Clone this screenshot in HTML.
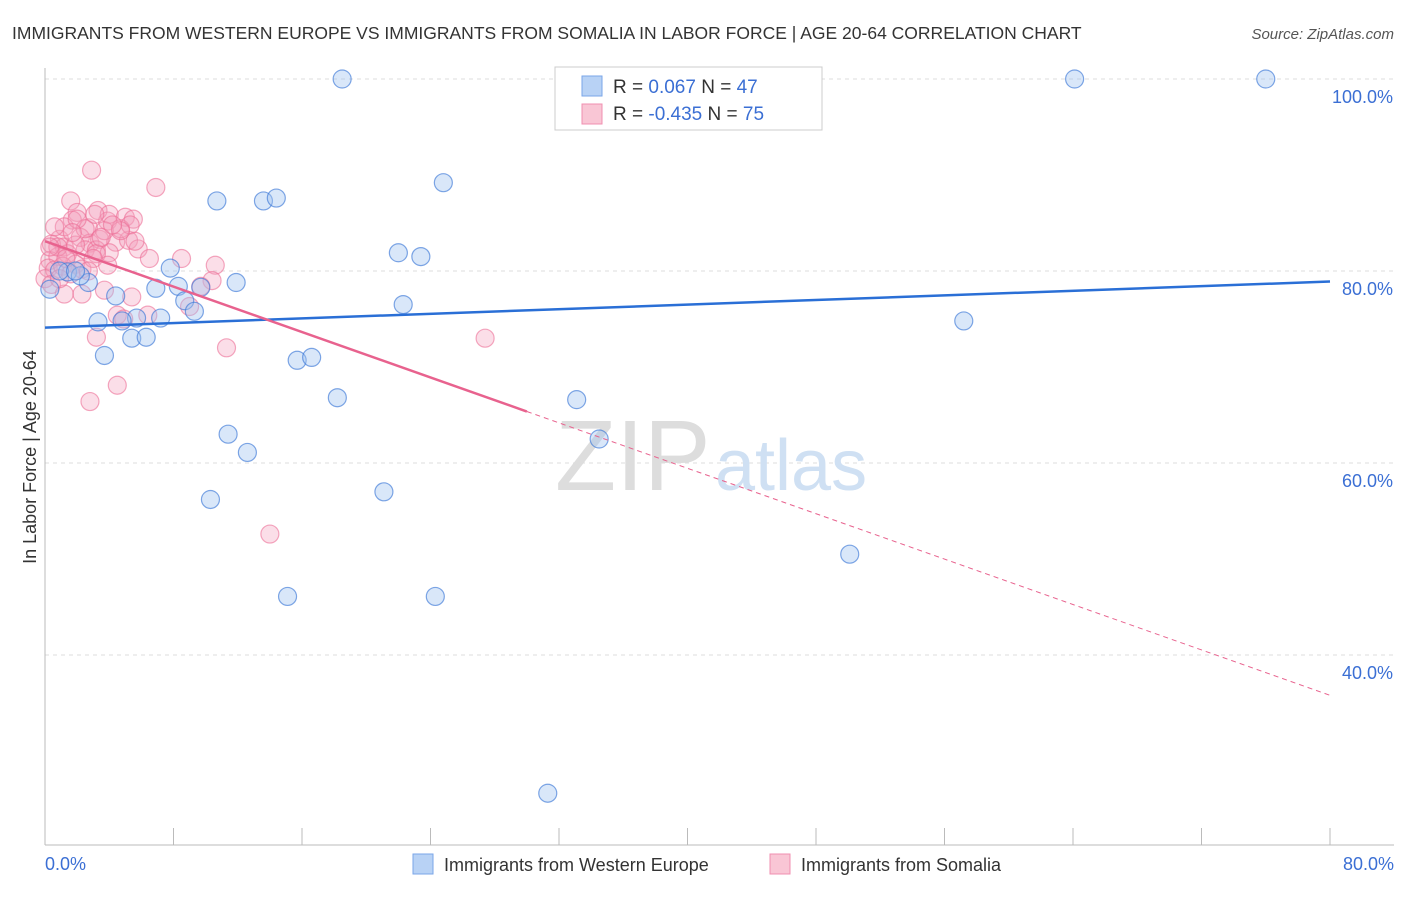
<!DOCTYPE html>
<html><head><meta charset="utf-8"><style>
body{margin:0;background:#fff;font-family:"Liberation Sans",sans-serif;}
svg text{font-family:"Liberation Sans",sans-serif;}
</style></head><body>
<svg width="1406" height="892" xmlns="http://www.w3.org/2000/svg">
<text x="12" y="39" font-size="17.5" fill="#333">IMMIGRANTS FROM WESTERN EUROPE VS IMMIGRANTS FROM SOMALIA IN LABOR FORCE | AGE 20-64 CORRELATION CHART</text>
<text x="1394" y="39" font-size="15" fill="#555" font-style="italic" text-anchor="end">Source: ZipAtlas.com</text>
<g id="grid"></g>
<text x="555" y="490" font-size="100" fill="#ddd" font-family="Liberation Serif">ZIP</text>
<text x="715" y="490" font-size="72" fill="#cfe0f3">atlas</text>
<line x1="45" y1="68" x2="45" y2="845" stroke="#bbb"/>
<line x1="45" y1="845" x2="1394" y2="845" stroke="#bbb"/>
<g id="ticks"></g>
<text x="36" y="457" font-size="18" fill="#333" transform="rotate(-90 36 457)" text-anchor="middle">In Labor Force | Age 20-64</text>
<text x="45" y="870" font-size="18" fill="#3b6fd4">0.0%</text>
<text x="1394" y="870" font-size="18" fill="#3b6fd4" text-anchor="end">80.0%</text>
<g id="pts"></g>
<g id="lines"></g>
<g>
<rect x="555" y="67" width="267" height="63" fill="#fff" stroke="#ccc"/>
<rect x="582" y="76" width="20" height="20" fill="#b8d2f5" stroke="#7aa6e8"/>
<rect x="582" y="104" width="20" height="20" fill="#f9c6d5" stroke="#f08fb0"/>
<text x="613" y="93" font-size="19" fill="#333">R = <tspan fill="#3b6fd4">  0.067</tspan>    N = <tspan fill="#3b6fd4">47</tspan></text>
<text x="613" y="120" font-size="19" fill="#333">R = <tspan fill="#3b6fd4">-0.435</tspan>    N = <tspan fill="#3b6fd4">75</tspan></text>
</g>
<g>
<rect x="413" y="854" width="20" height="20" fill="#b8d2f5" stroke="#7aa6e8"/>
<text x="444" y="871" font-size="18" fill="#333">Immigrants from Western Europe</text>
<rect x="770" y="854" width="20" height="20" fill="#f9c6d5" stroke="#f08fb0"/>
<text x="801" y="871" font-size="18" fill="#333">Immigrants from Somalia</text>
</g>
</svg>
<script>
const yTicks=[100,80,60,40];
const xTicks=[0,8,16,24,32,40,48,56,64,72,80];
const blueX=[18.5,34.5,35.9,64.1,76.0,10.7,13.6,14.4,24.8,22.0,23.4,7.8,11.9,6.9,8.3,9.7,8.7,9.3,22.3,3.3,5.7,7.2,4.8,5.4,6.3,3.7,15.7,16.6,18.2,33.1,34.5,11.4,12.6,10.3,21.1,50.1,15.1,24.3,31.3,57.2,0.3,2.7,1.4,4.4,2.2,0.9,1.9];
const blueY=[100,100,100,100,100,87.3,87.3,87.6,89.2,81.9,81.5,80.3,78.8,78.2,78.4,78.3,76.9,75.8,76.5,74.7,75.1,75.1,74.8,73.0,73.1,71.2,70.7,71.0,66.8,66.6,62.5,63.0,61.1,56.2,57.0,50.5,46.1,46.1,25.6,74.8,78.1,78.8,79.9,77.4,79.5,80.0,80.0];
const pinkX=[2.9,6.9,1.6,2.0,3.3,3.9,1.7,2.7,4.0,5.0,5.5,0.9,0.4,1.2,2.2,2.8,3.4,4.4,5.2,0.3,0.8,1.4,2.5,3.2,4.0,0.2,0.6,1.1,1.9,2.3,0.0,0.4,1.2,2.3,3.2,3.7,4.7,5.3,5.8,6.5,8.5,10.6,10.4,9.7,9.0,3.7,5.4,6.4,4.5,4.9,3.2,11.3,4.5,2.8,27.4,14.0,1.2,2.5,3.0,1.9,1.6,0.8,3.9,0.9,2.0,3.5,4.7,5.6,1.3,2.7,0.6,1.7,4.2,3.1,0.3];
const pinkY=[90.5,88.7,87.3,86.1,86.3,85.2,85.3,84.5,85.9,85.6,85.4,83.3,82.8,82.5,83.5,82.9,83.3,83.0,83.2,81.1,81.5,81.8,82.2,82.2,81.9,80.3,80.1,80.5,80.7,80.2,79.2,78.6,77.6,77.6,81.8,84.2,84.4,84.8,82.3,81.3,81.3,80.6,79.0,78.4,76.3,78.0,77.3,75.4,75.4,75.0,73.1,72.0,68.1,66.4,73.0,52.6,84.6,84.4,81.3,82.7,79.7,82.5,80.6,79.2,85.4,83.5,84.2,83.1,81.3,80.0,84.6,84.0,84.8,85.9,82.5];
const blueFit=[74.1,78.9], pinkFit=[83.1,35.8];
const X=v=>45+v/80*1285, Y=v=>79+(100-v)*9.6;
const NS='http://www.w3.org/2000/svg';
function mk(t,a,p){const e=document.createElementNS(NS,t);for(const k in a)e.setAttribute(k,a[k]);p.appendChild(e);return e;}
const grid=document.getElementById('grid'),ticks=document.getElementById('ticks'),pts=document.getElementById('pts'),lines=document.getElementById('lines');
yTicks.forEach(v=>{
 const l=mk('line',{x1:45,x2:1394,y1:Y(v),y2:Y(v),stroke:'#ddd','stroke-dasharray':'4 4'},grid);
 
 
 const t=mk('text',{x:1393,y:Y(v)+24,'font-size':18,fill:'#3b6fd4','text-anchor':'end'},ticks);
 t.textContent=v.toFixed(1)+'%';
 
 
});
xTicks.forEach(v=>{
 const l=mk('line',{x1:X(v),x2:X(v),y1:828,y2:845,stroke:'#bbb'},ticks);
 
 
});
pinkX.forEach((x,i)=>{
 const c=mk('circle',{cx:X(x),cy:Y(pinkY[i]),r:9,fill:'rgba(244,160,188,0.35)',stroke:'rgba(236,110,150,0.6)','stroke-width':1.2},pts);
 
 
});
blueX.forEach((x,i)=>{
 const c=mk('circle',{cx:X(x),cy:Y(blueY[i]),r:9,fill:'rgba(160,196,240,0.4)',stroke:'rgba(60,120,215,0.65)','stroke-width':1.2},pts);
 
 
});
const b=mk('line',{x1:X(0),y1:Y(blueFit[0]),x2:X(80),y2:Y(blueFit[1]),stroke:'#2a6fd6','stroke-width':2.5},lines);


const ps=v=>pinkFit[0]+(pinkFit[1]-pinkFit[0])*v/80;
const p1=mk('line',{x1:X(0),y1:Y(ps(0)),x2:X(30),y2:Y(ps(30)),stroke:'#e8628e','stroke-width':2.5},lines);


const p2=mk('line',{x1:X(30),y1:Y(ps(30)),x2:X(80),y2:Y(ps(80)),stroke:'#e8628e','stroke-width':1,'stroke-dasharray':'5 4'},lines);


</script>
</body></html>
